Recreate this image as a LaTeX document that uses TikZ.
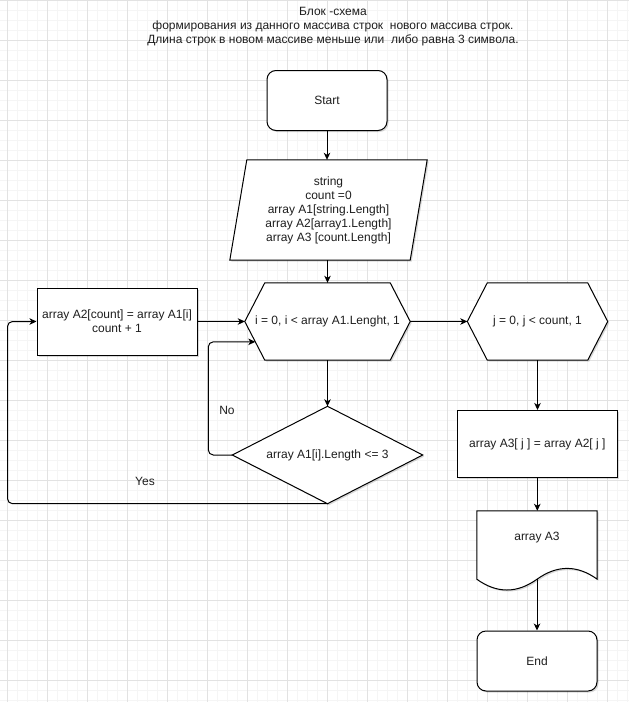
\documentclass[tikz,border=0pt]{standalone}
\usepackage{fontspec}
\setmainfont{Liberation Sans}
\usetikzlibrary{arrows.meta,calc,shadows}
\definecolor{gridminor}{RGB}{245,245,245}
\definecolor{gridmajor}{RGB}{226,226,226}
\definecolor{ink}{RGB}{30,30,30}
\pgfdeclarelayer{grid}
\pgfdeclarelayer{shapes}
\pgfsetlayers{grid,shapes,main}
\begin{document}
\begin{tikzpicture}[x=1pt,y=-1pt,
  every node/.style={font=\fontsize{12}{14}\selectfont, text=ink, inner sep=0pt},
  softshadow/.style={drop shadow={shadow xshift=1.5pt, shadow yshift=-1.5pt, opacity=0.15, fill=black}},
  outline/.style={draw=black, fill=white, line width=1pt, line join=miter, softshadow},
  terminal/.style={outline, rounded corners=9pt, minimum width=120pt, minimum height=60pt},
  procbox/.style={outline, minimum width=160pt, minimum height=67pt, align=center},
  holder/.style={align=center},
  flow/.style={draw=black, line width=1pt, -{Stealth[length=7pt,width=6.5pt,inset=2pt]}},
  caption/.style={font=\fontsize{12}{14}\selectfont}
]
\useasboundingbox (0,0) rectangle (629,702);

% background grid
\begin{pgfonlayer}{grid}
  \fill[white] (0,0) rectangle (629,702);
  \foreach \x in {7,17,...,627} \draw[gridminor, line width=1pt] (\x,0) -- (\x,702);
  \foreach \y in {10,20,...,700} \draw[gridminor, line width=1pt] (0,\y) -- (629,\y);
  \foreach \x in {7,47,...,607} \draw[gridmajor, line width=1pt] (\x,0) -- (\x,702);
  \foreach \y in {0,40,...,680} \draw[gridmajor, line width=1pt] (0,\y) -- (629,\y);
\end{pgfonlayer}

% title
\node[align=center, font=\fontsize{12}{13.8}\selectfont] (title) at (333,26.5)
  {Блок -схема\\формирования из данного массива строк~ нового массива строк.\\Длина строк в новом массиве меньше или~ либо равна 3 символа.};

% blocks
\node[terminal] (start) at (327,100.5) {Start};
\node[holder, minimum width=180pt, minimum height=100pt] (inp) at (328.5,210)
  {string\\count =0\\array A1[string.Length]\\array A2[array1.Length]\\array A3 [count.Length]};
\node[holder, minimum width=165pt, minimum height=77pt] (loop1) at (327.5,321.5) {i = 0, i < array A1.Lenght, 1};
\node[holder, minimum width=190pt, minimum height=97pt] (cond) at (327.5,455) {array A1[i].Length <= 3};
\node[procbox] (body) at (117,321.5) {array A2[count] = array A1[i]\\count + 1};
\node[holder, minimum width=140pt, minimum height=77pt] (loop2) at (537.5,321.5) {j = 0, j < count, 1};
\node[procbox] (assign) at (537.3,444) {array A3[ j ] = array A2[ j ]};
\node[holder, minimum width=120pt, minimum height=54pt] (doc) at (537,538) {array A3};
\node[terminal] (end) at (537,661) {End};

\node[caption] (nolabel) at (227,410) {No};
\node[caption] (yeslabel) at (145,481) {Yes};

\coordinate (docend) at ($(doc.south)+(0,14)$);
\coordinate (noin) at ($(loop1.west)!0.525!([xshift=20pt]loop1.south west)$);

% outlines of the custom shapes
\begin{pgfonlayer}{shapes}
  \draw[outline] ($(inp.south west)+(-8.5,0)$) -- ($(inp.north west)+(8.5,0)$)
    -- ($(inp.north east)+(8.5,0)$) -- ($(inp.south east)+(-8.5,0)$) -- cycle;
  \draw[outline] (loop1.west) -- ($(loop1.north west)+(20,0)$) -- ($(loop1.north east)+(-20,0)$)
    -- (loop1.east) -- ($(loop1.south east)+(-20,0)$) -- ($(loop1.south west)+(20,0)$) -- cycle;
  \draw[outline] (loop2.west) -- ($(loop2.north west)+(20,0)$) -- ($(loop2.north east)+(-20,0)$)
    -- (loop2.east) -- ($(loop2.south east)+(-20,0)$) -- ($(loop2.south west)+(20,0)$) -- cycle;
  \draw[outline] (cond.north) -- (cond.east) -- (cond.south) -- (cond.west) -- cycle;
  \draw[outline] (doc.north west) -- (doc.north east) -- ($(doc.south east)+(0,14)$)
    .. controls ($(doc.south east)+(-20,-0.4)$) and ($(doc.south east)+(-40,-0.4)$) .. (docend)
    .. controls ($(doc.south)+(-20,28.4)$) and ($(doc.south west)+(20,28.4)$) .. ($(doc.south west)+(0,14)$)
    -- cycle;
\end{pgfonlayer}

% connectors
\draw[flow] (start.south) -- (start.south |- inp.north);
\draw[flow] (loop1 |- inp.south) -- (loop1.north);
\draw[flow] (loop1.south) -- (cond.north);
\draw[flow] (body.east) -- (loop1.west);
\draw[flow] (loop1.east) -- (loop2.west);
\draw[flow] (loop2.south) -- (loop2.south |- assign.north);
\draw[flow] (assign.south) -- (assign.south |- doc.north);
\draw[flow] (docend) -- (end.north);
\draw[flow, rounded corners=5pt] (cond.west) -| ($(noin)+(-47,0)$) -- (noin);
\draw[flow, rounded corners=5pt] (cond.south) -| ($(body.west)+(-29,0)$) -- (body.west);
\end{tikzpicture}
\end{document}
